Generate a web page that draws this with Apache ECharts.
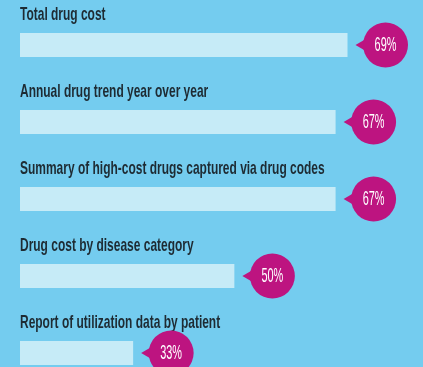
<!DOCTYPE html>
<html>
<head>
<meta charset="utf-8">
<script src="https://cdn.jsdelivr.net/npm/echarts@6/dist/echarts.min.js"></script>
<style>
  html, body { margin: 0; padding: 0; background: #74CCEF; }
  #chart { width: 423px; height: 367px; }
</style>
</head>
<body>
<div id="chart"></div>
<script>
// Survey items and share of respondents (%)
const categories = [
  'Total drug cost',
  'Annual drug trend year over year',
  'Summary of high-cost drugs captured via drug codes',
  'Drug cost by disease category',
  'Report of utilization data by patient'
];
const values = [69, 67, 67, 50, 33];
const valueLabels = ['69%', '67%', '67%', '50%', '33%'];

const AXIS_MIN = 14;
const AXIS_MAX = 80;

const BG = '#74CCEF';
const BAR = '#C6EBF7';
const BADGE = '#BD1480';
const INK = '#1E2B33';

const chart = echarts.init(document.getElementById('chart'), null, { renderer: 'canvas' });

// Category caption sits above each bar, left-aligned to the axis start
function renderCaption(params, api) {
  const idx = api.value(0);
  const p = api.coord([AXIS_MIN, idx]);
  return {
    type: 'text',
    x: p[0],
    y: p[1] - 30,
    scaleX: 0.63,
    originX: 0,
    style: {
      text: categories[idx],
      x: 0, y: 0,
      align: 'left',
      verticalAlign: 'middle',
      fill: INK,
      font: 'bold 19px "Liberation Sans", Arial, sans-serif'
    }
  };
}

// Speech-bubble badge placed just past the end of each bar
function renderBadge(params, api) {
  const idx = api.value(0);
  const end = api.coord([api.value(1), idx]);
  const r = 22.5;
  const cx = end[0] + 38;
  const cy = end[1];
  return {
    type: 'group',
    children: [
      {
        type: 'polygon',
        shape: { points: [[cx - 30, cy], [cx - 18, cy - 7], [cx - 18, cy + 7]] },
        style: { fill: BADGE }
      },
      {
        type: 'circle',
        shape: { cx: cx, cy: cy, r: r },
        style: { fill: BADGE }
      },
      {
        type: 'text',
        x: cx,
        y: cy + 0.5,
        scaleX: 0.52,
        style: {
          text: valueLabels[idx],
          x: 0, y: 0,
          align: 'center',
          verticalAlign: 'middle',
          fill: '#FFFFFF',
          font: '21px "Liberation Sans", Arial, sans-serif'
        }
      }
    ]
  };
}

chart.setOption({
  backgroundColor: BG,
  animation: false,
  grid: { left: 20, top: 6.5, width: 393, height: 385, containLabel: false, outerBoundsMode: 'none' },
  xAxis: {
    type: 'value',
    min: AXIS_MIN,
    max: AXIS_MAX,
    show: false
  },
  yAxis: {
    type: 'category',
    data: categories,
    inverse: true,
    show: false
  },
  series: [
    {
      type: 'bar',
      data: values,
      barWidth: 24,
      itemStyle: { color: BAR },
      silent: true
    },
    {
      type: 'custom',
      renderItem: renderCaption,
      data: categories.map((c, i) => [i]),
      encode: { y: 0 },
      clip: false,
      silent: true
    },
    {
      type: 'custom',
      renderItem: renderBadge,
      data: values.map((v, i) => [i, v]),
      encode: { y: 0, x: 1 },
      clip: false,
      silent: true
    }
  ]
});
</script>
</body>
</html>
